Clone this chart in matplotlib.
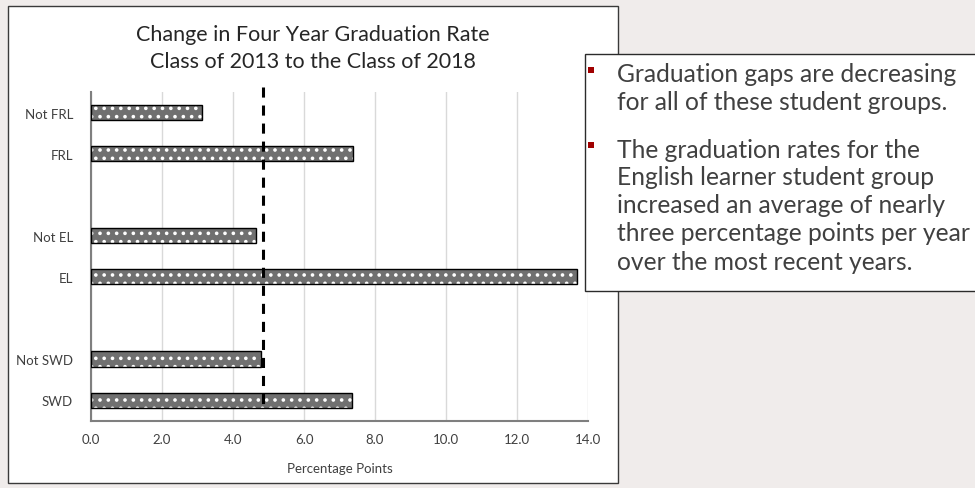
import matplotlib
matplotlib.use("Agg")
import matplotlib.pyplot as plt
from matplotlib.patches import Rectangle
import numpy as np

categories = ["Not FRL", "FRL", "Not EL", "EL", "Not SWD", "SWD"]
values = [3.12, 7.39, 4.66, 13.69, 4.80, 7.36]
average_line = 4.84
xticks = [0, 2, 4, 6, 8, 10, 12, 14]
title_lines = ["Change in Four Year Graduation Rate", "Class of 2013 to the Class of 2018"]
xlabel = "Percentage Points"
bullets = [
    ["Graduation gaps are decreasing", "for all of these student groups."],
    ["The graduation rates for the", "English learner student group",
     "increased an average of nearly", "three percentage points per year",
     "over the most recent years."],
]

FONT = ["Lato", "DejaVu Sans"]
plt.rcParams["font.family"] = FONT
plt.rcParams["hatch.linewidth"] = 1.4
TXT = "#404040"

fig = plt.figure(figsize=(9.75, 4.89), dpi=100)
fig.patch.set_facecolor("#F0ECEB")

# chart area box
fig.patches.append(Rectangle((8/975, 1-484/489), 610/975, 477/489, transform=fig.transFigure,
                             facecolor="white", edgecolor="#3a3a3a", linewidth=1.0, zorder=-1))

ax = fig.add_axes([91/975, 1-421.7/489, 497/975, (421.7-93)/489])
ax.set_zorder(1)
ax.patch.set_alpha(0)

# positions: groups of two with a blank slot between groups
pos = np.array([i + i // 2 for i in range(len(categories))], dtype=float)

ax.barh(pos, values, height=0.37, color="#707070", edgecolor="white", hatch="..",
        linewidth=0, zorder=2)
ax.barh(pos, values, height=0.37, fill=False, edgecolor="black", linewidth=1.0, zorder=3)

ln, = ax.plot([average_line, average_line], [-0.62, 7.26], color="black", linewidth=2.2,
              zorder=4, clip_on=False)
ln.set_dashes((3.3, 2.6))

ax.set_ylim(7.5, -0.5)
ax.set_xlim(0, 14)
ax.set_yticks(pos)
ax.set_yticklabels(categories)
ax.set_xticks(xticks)
ax.set_xticklabels([f"{t:.1f}" for t in xticks])
ax.tick_params(axis="both", length=0, labelsize=9.5, colors=TXT)
ax.tick_params(axis="y", pad=13)
ax.tick_params(axis="x", pad=9)
ax.grid(axis="x", color="#D9D9D9", linewidth=1.0, zorder=0)
ax.set_axisbelow(True)
for s in ["top", "right"]:
    ax.spines[s].set_visible(False)
for s in ["left", "bottom"]:
    ax.spines[s].set_color("#7f7f7f")
    ax.spines[s].set_linewidth(1.5)
ax.set_xlabel(xlabel, fontsize=9.5, color=TXT, labelpad=12)

for i, t in enumerate(title_lines):
    fig.text(313/975, 1-(35 + 27*i)/489, t, ha="center", va="center", fontsize=15.5,
             color="#262626")

# text box on right
fig.patches.append(Rectangle((585/975, 1-292/489), 0.5, 237/489, transform=fig.transFigure,
                             facecolor="white", edgecolor="#2b2b2b", linewidth=1.0, zorder=5))
line_h = 28.0
y = 75.0
for para in bullets:
    fig.patches.append(Rectangle((588/975, 1-(y - 1)/489), 6/975, 6/489,
                                 transform=fig.transFigure, facecolor="#A00000",
                                 edgecolor="none", zorder=6))
    for line in para:
        fig.text(617/975, 1-y/489, line, ha="left", va="center", fontsize=17.7,
                 color=TXT, zorder=7)
        y += line_h
    y += 19

fig.savefig("out.png", dpi=100, facecolor=fig.get_facecolor())
